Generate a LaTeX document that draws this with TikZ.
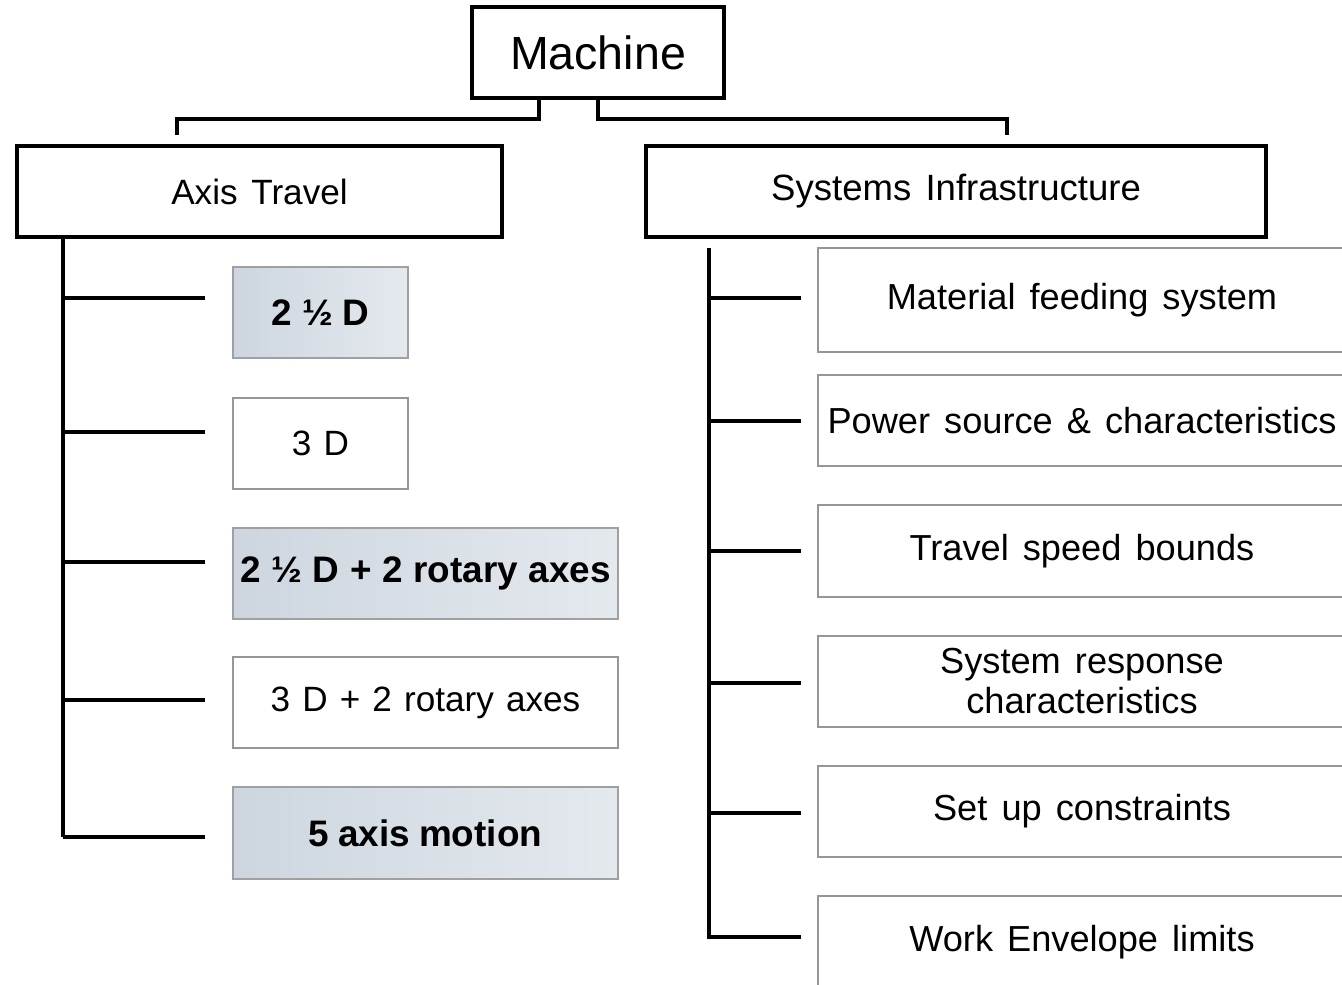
\documentclass[tikz,border=0pt]{standalone}
\usepackage{fontspec}
\setmainfont{Liberation Sans}
\usetikzlibrary{calc}
\definecolor{boxgray}{RGB}{150,150,150}
\definecolor{fillA}{RGB}{205,214,223}
\definecolor{fillB}{RGB}{228,233,238}
\newcommand{\fsz}[3]{\fontsize{#1}{#2}\selectfont\spaceskip=#3em\relax}
\tikzset{
  conn/.style={line width=2.2pt, black},
  bigbox/.style={draw=black, line width=2.1pt, fill=white, inner sep=0pt, font=\fsz{20}{24}{0.39}},
  leafbox/.style={draw=boxgray, line width=0.9pt, fill=white, inner sep=0pt, minimum height=1.82cm, font=\fsz{20.6}{22.8}{0.39}, align=center},
  leafshade/.style={draw=boxgray!90, line width=0.9pt, left color=fillA, right color=fillB, inner sep=0pt, minimum height=1.82cm, font=\bfseries\fsz{21}{24}{0.245}},
}
\begin{document}
\begin{tikzpicture}[x=0.02cm,y=-0.02cm]
\useasboundingbox (0,0) rectangle (1342,984);
\clip (0,0) rectangle (1342,984);
\fill[white] (0,0) rectangle (1342,984);

% top level
\node[bigbox, minimum width=5.04cm, minimum height=1.82cm, font=\fsz{26.5}{30}{0.3}] (machine) at (598,52.5) {Machine};
\node[bigbox, minimum width=9.7cm, minimum height=1.82cm] (axis) at (259.5,191.5) {Axis Travel};
\node[bigbox, minimum width=12.4cm, minimum height=1.82cm, font=\fsz{20.8}{24}{0.39}] (sys) at (956,191.5) {Systems Infrastructure};

% left leaves
\node[leafshade, minimum width=3.5cm, font=\bfseries\fsz{21}{24}{0.27}] (b1) at (320.5,312.5) {2 ½ D};
\node[leafbox, minimum width=3.5cm, font=\fsz{20}{23}{0.345}] (b2) at (320.5,443.5) {3 D};
\node[leafshade, minimum width=7.7cm, font=\bfseries\fsz{21}{24}{0.29}] (b3) at (425.5,573.5) {2 ½ D + 2 rotary axes};
\node[leafbox, minimum width=7.7cm, font=\fsz{20}{23}{0.345}] (b4) at (425.5,702.5) {3 D + 2 rotary axes};
\node[leafshade, minimum width=7.7cm, minimum height=1.84cm] (b5) at (425.5,833) {5 axis motion};

% right leaves
\node[leafbox, minimum width=10.56cm, minimum height=2.08cm] (r1) at (1082,300) {Material feeding system};
\node[leafbox, minimum width=10.56cm] (r2) at (1082,420.5) {Power source \& characteristics};
\node[leafbox, minimum width=10.56cm, minimum height=1.84cm] (r3) at (1082,551) {Travel speed bounds};
\node[leafbox, minimum width=10.56cm] (r4) at (1082,681.5) {System response\\characteristics};
\node[leafbox, minimum width=10.56cm] (r5) at (1082,811.5) {Set up constraints};
\node[leafbox, minimum width=10.56cm, minimum height=1.84cm] (r6) at (1082,942) {Work Envelope limits};

% top connectors
\coordinate (ta) at (177,135);
\coordinate (ts) at (1007,135);
\draw[conn] (machine.south -| 539,0) -- (539,119) -| (ta);
\draw[conn] (machine.south) -- (598,119) -| (ts);

% left tree
\coordinate (lend) at (63,837);
\coordinate (l1) at (205,298);
\coordinate (l2) at (205,432);
\coordinate (l3) at (205,562);
\coordinate (l4) at (205,700);
\coordinate (l5) at (205,837);
\draw[conn] (axis.south -| lend) -- (lend);
\foreach \i in {1,...,5} \draw[conn] (l\i -| lend) -- (l\i);

% right tree
\coordinate (rtop) at (709,248);
\coordinate (rend) at (709,937);
\coordinate (q1) at (801,298);
\coordinate (q2) at (801,421);
\coordinate (q3) at (801,551);
\coordinate (q4) at (801,683);
\coordinate (q5) at (801,813);
\coordinate (q6) at (801,937);
\draw[conn] (rtop) -- (rend) -- (q6);
\foreach \i in {1,...,5} \draw[conn] (q\i -| rtop) -- (q\i);
\end{tikzpicture}
\end{document}
